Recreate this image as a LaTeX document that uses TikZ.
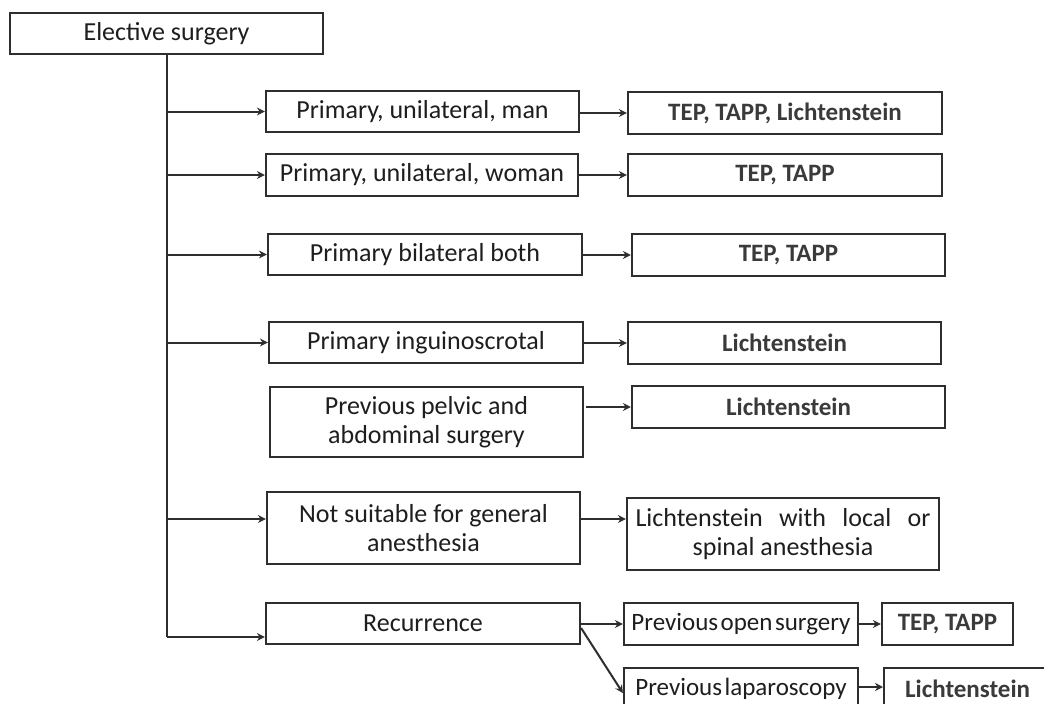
\documentclass[tikz,border=0pt]{standalone}
\usepackage{fontspec}
\setmainfont{Carlito}
\usetikzlibrary{arrows.meta,calc}
\definecolor{ln}{HTML}{2E2E2E}
\definecolor{tx}{HTML}{1E1E1E}
\definecolor{tb}{HTML}{3A3A3A}
\newcommand{\tightsp}{\spaceskip=2.5pt\relax}
\begin{document}
\begin{tikzpicture}[x=1pt,y=-1pt,
  box/.style={draw=ln,line width=2.2pt,fill=white,inner sep=0pt,align=center,text=tx,font=\fontsize{26}{29}\selectfont},
  rbox/.style={box,text=tb,font=\fontsize{25}{29}\selectfont\bfseries},
  tight/.style={font=\fontsize{25}{29}\selectfont},
  arr/.style={draw=ln,line width=2pt,-{Stealth[length=8pt,width=8pt]}},
  plain/.style={draw=ln,line width=2pt}]
\useasboundingbox[clip] (0,0) rectangle (1044,704);
\fill[white] (0,0) rectangle (1044,704);
% left/middle column
\node[box,minimum width=313pt,minimum height=41pt] (es) at (166.5,33.5) {Elective surgery};
\node[box,minimum width=313pt,minimum height=41pt] (m1) at (422.5,111.5) {Primary, unilateral, man};
\node[box,minimum width=312pt,minimum height=42pt] (m2) at (422,175) {Primary, unilateral, woman};
\node[box,minimum width=314pt,minimum height=41pt] (m3) at (425,254.5) {Primary bilateral both};
\node[box,minimum width=314pt,minimum height=41pt] (m4) at (426,342.5) {Primary inguinoscrotal};
\node[box,minimum width=313pt,minimum height=70pt] (m5) at (426.5,422) {Previous pelvic and\\abdominal surgery};
\node[box,minimum width=313pt,minimum height=72pt] (m6) at (423.5,528) {Not suitable for general\\anesthesia};
\node[box,minimum width=314pt,minimum height=41pt] (m7) at (423,623.5) {Recurrence};
% right column
\node[rbox,minimum width=314pt,minimum height=42pt] (r1) at (785,113) {TEP, TAPP, Lichtenstein};
\node[rbox,minimum width=314pt,minimum height=42pt] (r2) at (785,175) {TEP, TAPP};
\node[rbox,minimum width=313pt,minimum height=42pt] (r3) at (788.5,255) {TEP, TAPP};
\node[rbox,minimum width=313pt,minimum height=42pt] (r4) at (784.5,343) {Lichtenstein};
\node[rbox,minimum width=313pt,minimum height=42pt] (r5) at (788.5,407) {Lichtenstein};
\node[box,minimum width=312pt,minimum height=72pt] (r6) at (783,534) {\makebox[295pt][s]{Lichtenstein with local or}\\spinal anesthesia};
% recurrence branch
\node[box,tight,minimum width=234pt,minimum height=42pt] (s1) at (741,624) {\tightsp Previous open surgery};
\node[rbox,minimum width=131pt,minimum height=42pt] (s2) at (947.5,624) {TEP, TAPP};
\node[box,tight,minimum width=234pt,minimum height=42pt,anchor=north] (s3) at (741,667) {\tightsp Previous laparoscopy};
\node[rbox,minimum width=167pt,minimum height=42pt,anchor=north west] (s4) at (883,667) {Lichtenstein};
% trunk and branches
\coordinate (t6) at ([yshift=9pt]m6.west);
\coordinate (t7) at ([yshift=-13.5pt]m7.west);
\coordinate (l1) at ([yshift=-20pt]s3.north east);
\draw[plain] (es.south) -- (es.south |- t7);
\draw[arr] (es.south |- t7) -- (t7);
\draw[arr] (es.south |- m1.west) -- (m1.west);
\draw[arr] (es.south |- m2.west) -- (m2.west);
\draw[arr] (es.south |- m3.west) -- (m3.west);
\draw[arr] (es.south |- m4.west) -- (m4.west);
\draw[arr] (es.south |- t6) -- (t6);
% middle to right
\draw[arr] (m1.east |- r1.west) -- (r1.west);
\draw[arr] (m2.east) -- (m2.east -| r2.west);
\draw[arr] (m3.east |- r3.west) -- (r3.west);
\draw[arr] (m4.east |- r4.west) -- (r4.west);
\draw[arr] ([xshift=2pt]m5.east |- r5.west) -- (r5.west);
\draw[arr] (t6 -| m6.east) -- (t6 -| r6.west);
% recurrence
\draw[arr] ([yshift=-0.5pt]m7.east) -- ([yshift=-0.5pt]m7.east -| s1.west);
\draw[arr] ([yshift=-4.5pt]m7.east) -- ([yshift=-4pt]s3.west);
\draw[arr] (s1.east) -- (s1.east -| s2.west);
\draw[arr] (l1) -- (l1 -| s4.west);
\end{tikzpicture}
\end{document}
